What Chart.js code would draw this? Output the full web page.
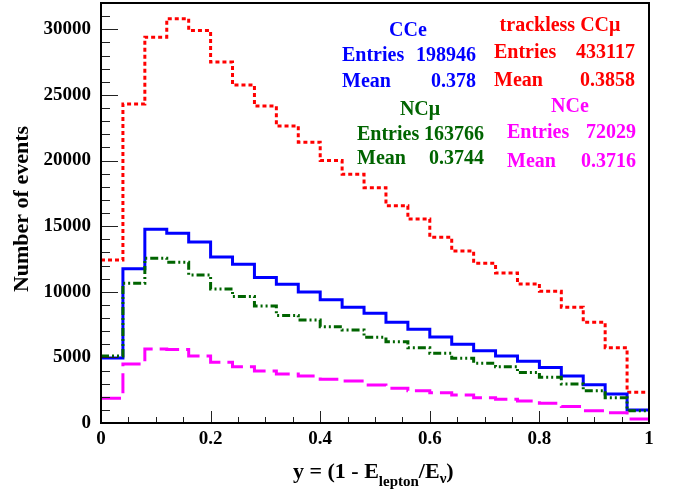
<!DOCTYPE html>
<html>
<head>
<meta charset="utf-8">
<script src="https://cdn.jsdelivr.net/npm/chart.js@4"></script>
<style>
  html, body { margin: 0; padding: 0; background: #fff; }
  #wrap { width: 673px; height: 490px; }
</style>
</head>
<body>
<div id="wrap"><canvas id="myChart" width="673" height="490"></canvas></div>
<script>
// lower bin edges of y = 1 - E_lepton/E_nu (bin width 0.04)
const binEdges = [0, 0.04, 0.08, 0.12, 0.16, 0.2, 0.24, 0.28, 0.32, 0.36, 0.4, 0.44, 0.48,
                  0.52, 0.56, 0.6, 0.64, 0.68, 0.72, 0.76, 0.8, 0.84, 0.88, 0.92, 0.96];
const xMax = 1;

const ccE = [4950, 11750, 14760, 14450, 13790, 12650, 12090, 11080, 10570, 9980, 9400, 8820, 8360,
             7670, 7140, 6550, 6000, 5500, 5100, 4700, 4220, 3580, 2920, 2210, 990];
const tracklessCCmu = [12420, 24300, 29400, 30800, 29900, 27500, 25750, 24150, 22630, 21400, 20000, 18950, 17930,
                       16560, 15550, 14150, 13100, 12170, 11430, 10600, 10030, 8820, 7670, 5740, 2340];
const ncMu = [5100, 10650, 12550, 12250, 11280, 10210, 9630, 8920, 8200, 7850, 7340, 7090, 6530,
              6200, 5740, 5310, 4930, 4550, 4290, 3840, 3480, 2970, 2460, 1930, 940];
const ncE = [1880, 4500, 5640, 5600, 5100, 4630, 4290, 3960, 3740, 3580, 3330, 3200, 2900,
             2650, 2460, 2310, 2140, 1930, 1810, 1680, 1500, 1250, 940, 790, 300];

const yTicks = [0, 5000, 10000, 15000, 20000, 25000, 30000];
const xTicks = [0, 0.2, 0.4, 0.6, 0.8, 1];

const statBoxes = [
  { title: 'CCe', color: '#0000ff', entries: '198946', mean: '0.378' },
  { title: 'trackless CC\u03bc', color: '#ff0000', entries: '433117', mean: '0.3858' },
  { title: 'NC\u03bc', color: '#006400', entries: '163766', mean: '0.3744' },
  { title: 'NCe', color: '#ff00ff', entries: '72029', mean: '0.3716' }
];

const FONT = '"Liberation Serif", "Times New Roman", serif';

// histogram as step line: one point per lower edge plus closing point at x = 1
function histPoints(vals) {
  const pts = binEdges.map((e, i) => ({ x: e, y: vals[i] }));
  pts.push({ x: xMax, y: vals[vals.length - 1] });
  return pts;
}

// where each stat box sits
const statLayout = [
  { tx: 408, ty: 31, lx: 342, rx: 476, ey: 56, my: 82 },
  { tx: 560, ty: 26, lx: 494, rx: 635, ey: 53, my: 81 },
  { tx: 420, ty: 110, lx: 357, rx: 484, ey: 135, my: 159 },
  { tx: 570, ty: 107, lx: 507, rx: 636, ey: 133, my: 162 }
];

const rootFrame = {
  id: 'rootFrame',
  afterDatasetsDraw(chart) {
    const { ctx, chartArea: a, scales } = chart;
    const xs = scales.x, ys = scales.y;
    ctx.save();
    // inward ticks
    ctx.strokeStyle = '#222';
    ctx.lineWidth = 1;
    ctx.beginPath();
    for (let v = 0; v <= 32000; v += 1000) {
      const py = Math.round(ys.getPixelForValue(v)) + 0.5;
      const len = v % 5000 === 0 ? 17 : 9;
      ctx.moveTo(a.left, py);
      ctx.lineTo(a.left + len, py);
    }
    for (let k = 0; k <= 20; k++) {
      const px = Math.round(xs.getPixelForValue(k * 0.05)) + 0.5;
      const len = k % 4 === 0 ? 12 : 6;
      ctx.moveTo(px, a.bottom);
      ctx.lineTo(px, a.bottom - len);
    }
    ctx.stroke();
    // frame
    ctx.strokeStyle = '#000';
    ctx.lineWidth = 2;
    ctx.strokeRect(a.left, a.top, a.right - a.left, a.bottom - a.top);

    // stat boxes
    ctx.font = 'bold 20px ' + FONT;
    ctx.textBaseline = 'middle';
    statBoxes.forEach((b, i) => {
      const p = statLayout[i];
      ctx.fillStyle = b.color;
      ctx.textAlign = 'center';
      ctx.fillText(b.title, p.tx, p.ty);
      ctx.textAlign = 'left';
      ctx.fillText('Entries', p.lx, p.ey);
      ctx.fillText('Mean', p.lx, p.my);
      ctx.textAlign = 'right';
      ctx.fillText(b.entries, p.rx, p.ey);
      ctx.fillText(b.mean, p.rx, p.my);
    });

    // axis titles
    ctx.fillStyle = '#000';
    ctx.textAlign = 'left';
    ctx.textBaseline = 'alphabetic';
    const big = 'bold 22px ' + FONT, small = 'bold 15px ' + FONT;
    const parts = [
      ['y = (1 - E', big, 0], ['lepton', small, 8], ['/E', big, 0], ['\u03bd', small, 5], [')', big, 0]
    ];
    let x = 293;
    parts.forEach(p => {
      ctx.font = p[1];
      ctx.fillText(p[0], x, 478 + p[2]);
      x += ctx.measureText(p[0]).width;
    });

    ctx.translate(22, 209);
    ctx.rotate(-Math.PI / 2);
    ctx.font = 'bold 22px ' + FONT;
    ctx.textAlign = 'center';
    ctx.textBaseline = 'middle';
    ctx.fillText('Number of events', 0, 0);
    ctx.restore();
  }
};

function histSet(label, vals, color, dash) {
  return {
    label: label,
    data: histPoints(vals),
    stepped: 'before',
    borderColor: color,
    borderWidth: 3,
    borderDash: dash,
    pointRadius: 0,
    fill: false
  };
}

const ctx = document.getElementById('myChart');
const myChart = new Chart(ctx, {
  type: 'line',
  data: {
    datasets: [
      histSet('NCe', ncE, '#ff00ff', [20, 7]),
      histSet('NCmu', ncMu, '#006400', [8, 3, 2, 3, 2, 3]),
      histSet('CCe', ccE, '#0000ff', []),
      histSet('trackless CCmu', tracklessCCmu, '#ff0000', [4, 3])
    ]
  },
  options: {
    responsive: false,
    animation: false,
    layout: { padding: { top: 3, right: 24, left: 0, bottom: 0 } },
    plugins: { legend: { display: false }, tooltip: { enabled: false } },
    scales: {
      x: {
        type: 'linear',
        min: 0,
        max: xMax,
        grid: { display: false, drawTicks: false },
        border: { display: false },
        afterFit: s => { s.height = 67; },
        afterBuildTicks: s => { s.ticks = xTicks.map(v => ({ value: v })); },
        ticks: {
          color: '#000',
          padding: 5,
          maxRotation: 0,
          callback: v => String(v),
          font: { family: FONT, size: 19, weight: 'bold' }
        }
      },
      y: {
        min: 0,
        max: 32000,
        grid: { display: false, drawTicks: false },
        border: { display: false },
        afterFit: s => { s.width = 101; s.paddingTop = 0; s.paddingBottom = 0; },
        afterBuildTicks: s => { s.ticks = yTicks.map(v => ({ value: v })); },
        ticks: {
          color: '#000',
          padding: 10,
          callback: v => String(v),
          font: { family: FONT, size: 19, weight: 'bold' }
        }
      }
    }
  },
  plugins: [rootFrame]
});
</script>
</body>
</html>
